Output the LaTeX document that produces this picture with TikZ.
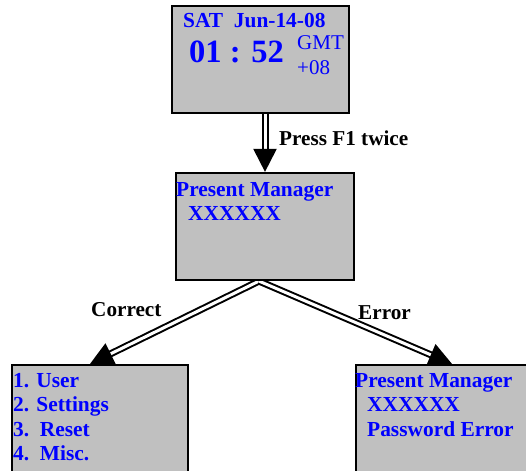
\documentclass[tikz,border=0pt]{standalone}
\usepackage{fontspec}
\setmainfont{Liberation Serif}
\usetikzlibrary{arrows.meta, positioning, backgrounds}

\definecolor{screengray}{RGB}{192,192,192}
\definecolor{lcdblue}{RGB}{0,0,255}

\tikzset{
    screen/.style={draw=black, line width=2.2pt, fill=screengray, inner sep=0pt},
    lcd/.style={text=lcdblue, font=\bfseries\fontsize{21.4}{24.4}\selectfont, align=left, inner sep=0pt, anchor=north west},
    dblarrow/.style={double, double distance=3pt, line width=2pt, -{Triangle[length=23pt,width=23pt]}},
    steplabel/.style={font=\bfseries\fontsize{21.2}{24}\selectfont, inner sep=0pt, anchor=base west}
}

\begin{document}
\begin{tikzpicture}[x=1pt, y=-1pt]
\useasboundingbox (0,0) rectangle (526,470);
% Screens
\node[screen, minimum width=177pt, minimum height=107pt] (clock) at (260.5,59.5) {};
\node[screen, minimum width=178pt, minimum height=107pt] (login) at (265,226.5) {};
\node[screen, minimum width=176pt, minimum height=115pt] (menu) at (100,422.5) {};
\node[screen, minimum width=176pt, minimum height=115pt] (fault) at (444,422.5) {};
% Clock screen
\node[lcd, anchor=base west] (date) at (183,28) {SAT\ \ Jun-14-08};
\node[lcd, anchor=base west, font=\bfseries\fontsize{32.5}{36}\selectfont] (time) at (189,63) {01 : 52};
\node[lcd, font=\fontsize{21}{25}\selectfont] (zone) at (297,31.5) {\strut GMT\\+08};
% Other screens
\node[lcd] (prompt) at (176,178.9) {\strut Present Manager\\\hspace*{12pt}XXXXXX};
\node[lcd] (items) at (13,370) {\strut 1. User\\2. Settings\\3.\ \ Reset\\4.\ \ Misc.};
\node[lcd] (errmsg) at (355,370) {\strut Present Manager\\\hspace*{12pt}XXXXXX\\\hspace*{12pt}Password Error};
% Transitions
\begin{scope}[on background layer]
\draw[dblarrow] (clock.south -| login.north) -- (login.north);
\draw[dblarrow] ([xshift=-6pt]login.south) -- ([xshift=-10pt]menu.north);
\draw[dblarrow] ([xshift=-6pt]login.south) -- ([xshift=8pt]fault.north);
\end{scope}
\node[steplabel] (press) at (279,146) {Press F1 twice};
\node[steplabel] (ok) at (91,316) {Correct};
\node[steplabel] (bad) at (358,319.3) {Error};
\end{tikzpicture}
\end{document}
